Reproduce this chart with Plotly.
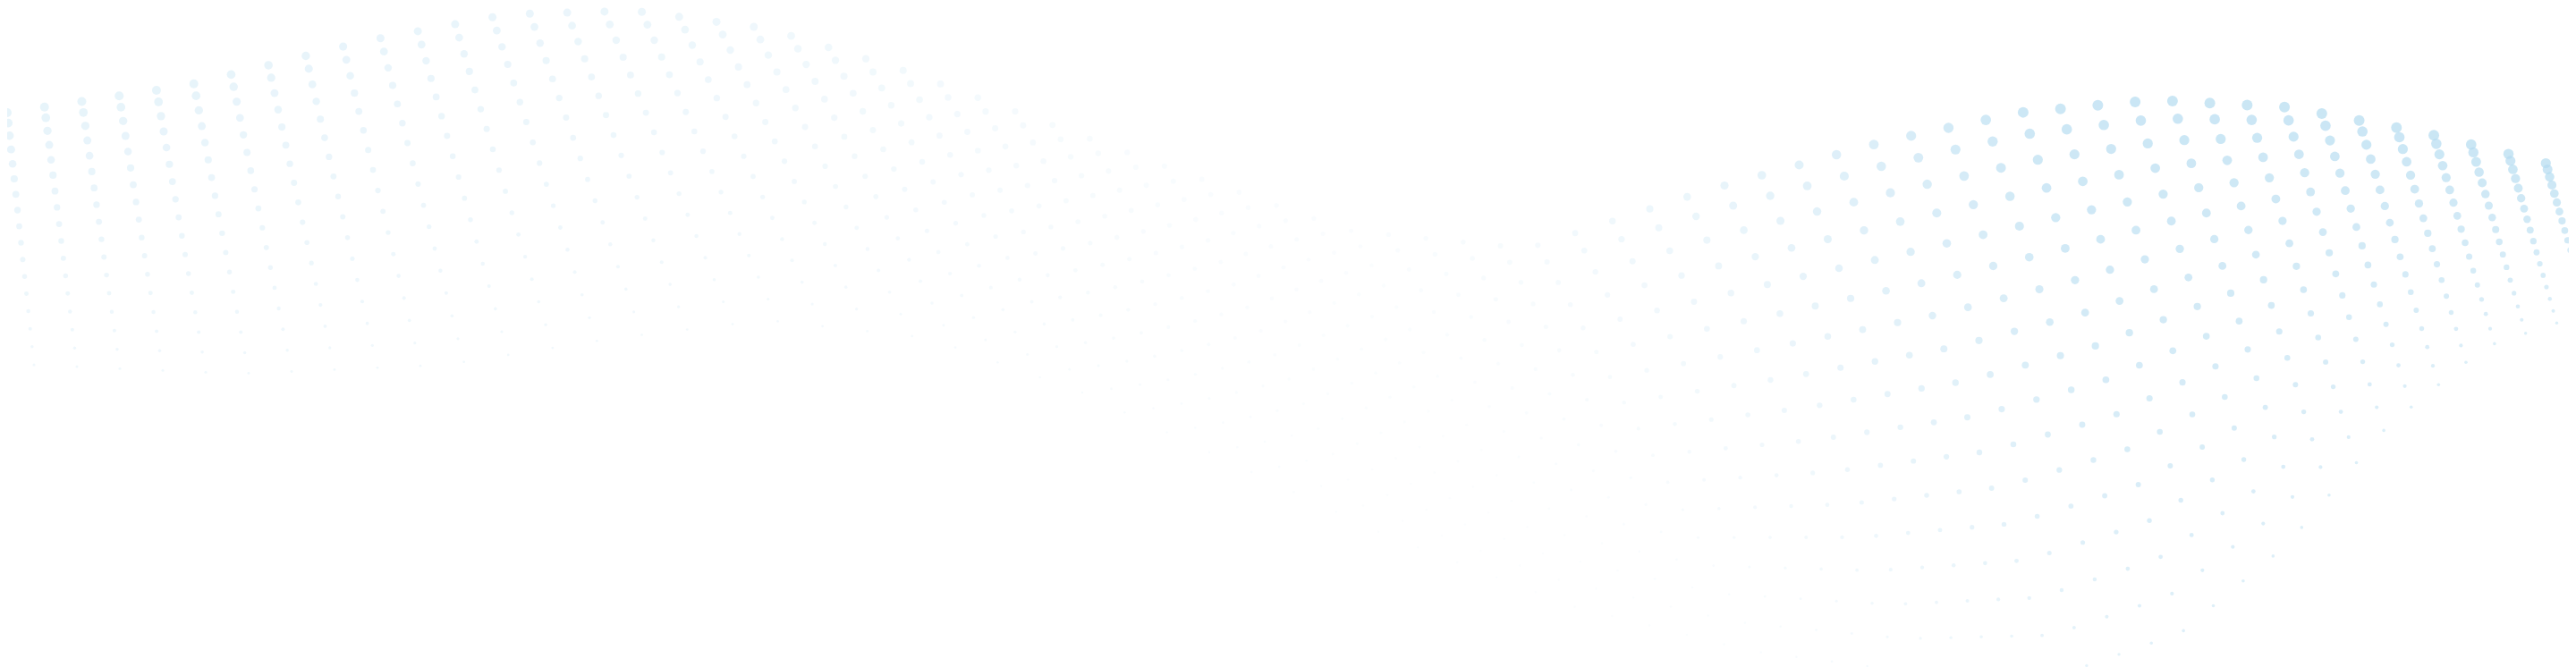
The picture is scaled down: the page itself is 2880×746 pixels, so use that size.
import numpy as np
import plotly.graph_objects as go

W, H = 2880, 746

# wave outline (pixel coords of the decoration)
ctrl_x = [0, 200, 400, 560, 700, 850, 1000, 1150, 1300, 1500, 1700, 1900, 2100, 2250, 2400, 2550, 2700, 2880]
top_y = [118, 88, 38, 8, 4, 24, 70, 125, 180, 250, 270, 205, 150, 118, 104, 112, 140, 185]
bottom_y = [400, 410, 400, 370, 350, 370, 430, 510, 590, 670, 720, 745, 745, 700, 600, 470, 380, 330]
shift = [30, 60, 90, 120, 150, 180, 200, 220, 240, 250, 250, 240, 200, 180, 150, 110, 70, 40]
alpha = [0.45, 0.45, 0.42, 0.4, 0.36, 0.3, 0.25, 0.18, 0.12, 0.1, 0.18, 0.4, 0.7, 0.95, 1.0, 1.0, 1.0, 1.0]
size_top = [10, 10, 9, 9, 9, 9, 8, 7, 6, 5, 6, 9, 11, 12, 12, 12, 12, 11]

n_cols = 70
n_rows = 17
BASE = (179, 219, 240)

xs, ys, sizes, colors = [], [], [], []
for c in np.linspace(0, W, n_cols):
    t = np.interp(c, ctrl_x, top_y)
    b = np.interp(c, ctrl_x, bottom_y)
    s = np.interp(c, ctrl_x, shift)
    a = np.interp(c, ctrl_x, alpha)
    sz = np.interp(c, ctrl_x, size_top)
    for r in range(n_rows):
        f = (r / (n_rows - 1)) ** 1.15
        xs.append(c + s * f)
        ys.append(t + (b - t) * f)
        sizes.append(max(2.5, sz * (1 - 0.7 * f)))
        colors.append(f"rgba({BASE[0]},{BASE[1]},{BASE[2]},{min(1, a * (1 - 0.35 * f)):.3f})")

fig = go.Figure(
    go.Scatter(
        x=xs,
        y=ys,
        mode="markers",
        marker=dict(size=sizes, color=colors, line=dict(width=0)),
        hoverinfo="skip",
    )
)

fig.update_layout(
    width=W,
    height=H,
    margin=dict(l=0, r=0, t=0, b=0),
    paper_bgcolor="white",
    plot_bgcolor="white",
    showlegend=False,
    xaxis=dict(range=[0, W], visible=False),
    yaxis=dict(range=[H, 0], visible=False),
)

fig.write_html("out.html")
